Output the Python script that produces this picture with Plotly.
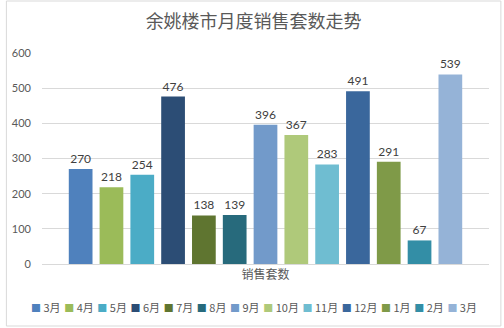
import plotly.graph_objects as go

# Monthly sales volume (units sold)
months = ["3月", "4月", "5月", "6月", "7月", "8月", "9月",
          "10月", "11月", "12月", "1月", "2月", "3月"]
sales = [270, 218, 254, 476, 138, 139, 396, 367, 283, 491, 291, 67, 539]
colors = ["#4F81BD", "#9BBB59", "#4BACC6", "#2C4D75", "#5F7530", "#276A7C",
          "#729ACA", "#AFC97A", "#6FBDD1", "#3A679C", "#7F9A48", "#338EA6",
          "#95B3D7"]
category = ["销售套数"]
y_ticks = [0, 100, 200, 300, 400, 500, 600]

FONT = "Lato, 'Noto Sans CJK SC', sans-serif"
CJK = "'Noto Sans CJK SC', sans-serif"

fig = go.Figure()
for i, (m, v, c) in enumerate(zip(months, sales, colors)):
    fig.add_trace(go.Bar(
        x=category, y=[v], name=m,
        marker=dict(color=c, line=dict(width=0)),
        text=[str(v)], textposition="outside",
        textfont=dict(family=FONT, size=12, color="#404040"),
        cliponaxis=False, showlegend=False,
    ))

# Compact legend row built as rich text
nb = "\u00a0"
gap = f"<span style='font-size:8px'>{nb}{nb}</span>"
legend_parts = [
    f"<span style='color:{c};font-size:10px'>■</span>{nb}{m}"
    for m, c in zip(months, colors)
]
legend_text = gap.join(legend_parts)

L, R, T, B = 37, 15, 53, 64
W, H = 504, 328
pw, ph = W - L - R, H - T - B

def px_x(px):
    return (px - L) / pw

def px_y(py):
    return (H - B - py) / ph

fig.add_annotation(
    text=legend_text, xref="paper", yref="paper",
    x=px_x(251), y=px_y(307), xanchor="center", yanchor="middle",
    showarrow=False, font=dict(family=CJK, size=11, color="#595959"),
)

# Outer chart border
fig.add_shape(
    type="rect", xref="paper", yref="paper",
    x0=px_x(1), x1=px_x(501), y0=px_y(326), y1=px_y(1),
    line=dict(color="#D9D9D9", width=1), layer="below",
)

fig.update_layout(
    width=W, height=H,
    margin=dict(l=L, r=R, t=T, b=B),
    paper_bgcolor="white", plot_bgcolor="white",
    barmode="group", bargap=0.104, bargroupgap=0.23,
    title=dict(text="余姚楼市月度销售套数走势", xref="paper",
               xanchor="center", y=1 - 22 / H, yanchor="middle",
               font=dict(family=CJK, size=18, color="#595959")),
    font=dict(family=FONT, color="#595959"),
    showlegend=False,
)
fig.update_layout(title_x=px_x(251))
fig.update_xaxes(
    showgrid=False, showline=True, linecolor="#D9D9D9", linewidth=1,
    ticks="", tickfont=dict(family=CJK, size=12, color="#595959"),
    range=[-0.5, 0.5], fixedrange=True,
)
fig.update_yaxes(
    range=[0, 600], tickvals=y_ticks, showgrid=True, gridcolor="#D9D9D9",
    gridwidth=1, zeroline=False, showline=False, ticks="",
    ticklabelstandoff=10,
    tickfont=dict(family=FONT, size=11, color="#595959"),
)

fig.write_html("out.html")
